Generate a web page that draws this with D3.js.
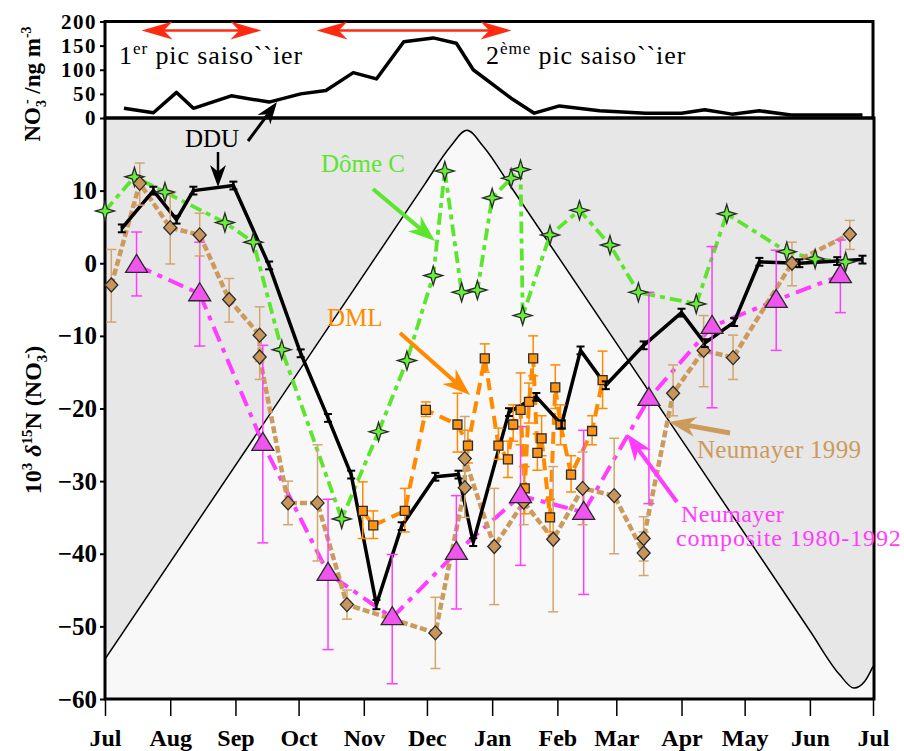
<!DOCTYPE html>
<html><head><meta charset="utf-8">
<script src="https://cdn.jsdelivr.net/npm/d3@7/dist/d3.min.js"></script>
<style>body{margin:0;background:#fff}svg{display:block}</style>
</head><body>
<svg id="chart" width="904" height="751"></svg>
<script>
// ---------- DATA (x = days since 1 July) ----------
const monthLabels = ["Jul","Aug","Sep","Oct","Nov","Dec","Jan","Feb","Mar","Apr","May","Jun","Jul"];
const mainTicks = [10,0,-10,-20,-30,-40,-50,-60];
const topTicks = [0,50,100,150,200];

// top panel: NO3- concentration (ng m-3)
const no3Day = [9,23,34,42,60,78,93,105,118,129,142,156,167,175,193,204,216,235,257,274,285,298,311,326,360];
const no3Val = [20,11,53,20,46,33,50,57,94,81,158,166,155,100,41,10,25,15,10,10,17,8,15,6,6];

// background (insolation-like) curve
const bgDay = [0,152,164,172,180,193,335,349,356,361,365];
const bgVal = [-54.5,10.9,16.0,18.3,16.0,10.5,-50.6,-56.6,-58.5,-57.6,-55.5];

// DDU
const dduDay = [8,23,34,42,61,78,93,106,117,129,141,157,168,175,192,205,217,226,238,256,274,285,299,311,330,348,360];
const dduVal = [4.8,10.0,6.0,10.0,10.7,-0.3,-12.4,-21.3,-29.1,-47.0,-36.2,-29.4,-29.1,-38.4,-20.5,-18.4,-22.2,-12.0,-16.8,-11.3,-6.8,-11.0,-8.1,0.2,0,0.3,0.5];
const dduErr = [0.4,0.4,0.4,0.4,0.4,0.4,0.4,0.4,0.4,0.5,0.4,0.4,0.4,0.4,0.4,0.4,0.4,0.4,0.4,0.4,0.4,0.4,0.4,0.4,0.4,0.4,0.4];

// Dome C
const domeDay = [0,14,28.5,57,70.5,84,112.5,130,143.5,156,161.5,169.5,177,184,193,197.5,198.5,211.5,225.5,240,253.5,281,295.5,324,337.5,352];
const domeVal = [7.2,11.9,9.8,5.6,2.9,-11.9,-35.2,-23.2,-13.4,-1.7,12.7,-4.0,-3.7,9.0,11.7,12.9,-7.2,3.9,7.3,2.5,-4.0,-5.6,6.8,1.6,0.6,0.2];

// DML
const dmlDay = [122.5,127.5,142.5,152.5,167.5,172.5,180.5,187,191.5,194,197.5,199.5,201.5,203.5,205.5,207.5,211.5,214,216.5,221.5,231.5,236.5];
const dmlVal = [-34.1,-36.1,-34.1,-20.2,-22.2,-25.1,-13.1,-25.1,-27.0,-22.2,-20.2,-31.0,-19.1,-13.1,-26.1,-24.1,-35.0,-17.1,-22.2,-29.1,-23.1,-16.1];
const dmlHi = [-30.1,-34.1,-31,-19.1,-17.9,-23,-11.1,-22.7,-24.5,-19.5,-15.1,-28,-16.5,-10,-23.5,-21,-32.5,-14,-19.5,-26.5,-21,-12.1];
const dmlLo = [-37.9,-37.9,-37,-21.1,-26,-27.5,-15,-27,-29.5,-24.5,-25,-34.5,-22,-15.5,-28.5,-26.5,-37,-20,-25,-31.5,-25,-20];

// Neumayer 1999
const n99Day = [3,16.5,31,45,59,73.5,73.5,87,101,115,157,171,171,185,199,213,227,242,256,256,270,284.5,298.5,326.5,354];
const n99Val = [-3.0,11.0,4.9,3.9,-5.0,-9.9,-12.9,-33.0,-33.0,-47.0,-50.9,-30.9,-26.9,-39.0,-32.9,-38.0,-31.0,-32.0,-39.9,-37.9,-17.9,-12.0,-13.0,0,4.0];
const n99Hi = [1.9,13.8,9.6,6.9,-2.1,-6.0,-10,-30,-25,-45,-46,-26,-21.1,-31,-28,-28,-26,-24.1,-37,-34.9,-14,-7.2,-9.9,2.9,5.9];
const n99Lo = [-8.1,8.0,-0.1,1.0,-8.1,-13.5,-16,-36,-41,-49,-55.8,-35,-31,-47,-36,-48,-36,-40,-43,-41,-21,-17,-16,-3.1,1.9];

// Neumayer composite 1980-1992
const ncDay = [15,45,75,106,136.5,167,197.5,227.5,258.5,288.5,319,349.5];
const ncVal = [-0.3,-4.2,-24.8,-42.7,-48.8,-39.8,-32.0,-34.3,-18.6,-8.7,-5.1,-1.7];
const ncHi = [4.3,2.9,-11.3,-32.5,-40.1,-32,-22.5,-23,-4.0,2.3,1.8,3.2];
const ncLo = [-4.5,-11.4,-38.5,-53.2,-57.9,-47.6,-41.6,-45.6,-33.1,-19.9,-12,-6.8];

// ---------- LAYOUT ----------
const svg = d3.select("#chart");
const serif = "'Liberation Serif','Times New Roman',Times,serif";
const L = 105, R = 874, mTop = 118, mBot = 699, tTop = 21.5;
const start = Date.UTC(2000,6,1);
const toDate = d => new Date(start + d*86400000);
const x = d3.scaleUtc().domain([new Date(start), new Date(Date.UTC(2001,6,1))]).range([L, 873]);
const y = d3.scaleLinear().domain([-60,20]).range([mBot, mTop]);
const yT = d3.scaleLinear().domain([0,200]).range([mTop, tTop]);
const zip = (a,b) => a.map((v,i)=>[v,b[i]]);

const C = {green:"#5be52c", orange:"#ff8a00", tan:"#cc9a5c", mag:"#ff3cff"};

svg.append("defs").append("clipPath").attr("id","clipM")
  .append("rect").attr("x",L).attr("y",mTop).attr("width",R-L).attr("height",mBot-mTop);

// ---------- MAIN BACKGROUND ----------
const bgG = svg.append("g").attr("clip-path","url(#clipM)");
bgG.append("rect").attr("x",L).attr("y",mTop).attr("width",R-L).attr("height",mBot-mTop).attr("fill","#e7e7e7");
const bgData = zip(bgDay,bgVal);
bgG.append("path").datum(bgData)
  .attr("d", d3.area().x(d=>x(toDate(d[0]))).y0(mBot).y1(d=>y(d[1])).curve(d3.curveMonotoneX))
  .attr("fill","#f8f8f8");
bgG.append("path").datum(bgData)
  .attr("d", d3.line().x(d=>x(toDate(d[0]))).y(d=>y(d[1])).curve(d3.curveMonotoneX))
  .attr("fill","none").attr("stroke","#000").attr("stroke-width",1.5);

// ---------- TOP PANEL ----------
svg.append("rect").attr("x",L).attr("y",tTop).attr("width",873-L).attr("height",mTop-tTop)
  .attr("fill","#fff").attr("stroke","#000").attr("stroke-width",3);
svg.append("path").datum(zip(no3Day,no3Val))
  .attr("d", d3.line().x(d=>x(toDate(d[0]))).y(d=>yT(d[1])))
  .attr("fill","none").attr("stroke","#000").attr("stroke-width",3.5).attr("stroke-linejoin","round");

const topAx = svg.append("g").attr("transform",`translate(${L},0)`)
  .call(d3.axisLeft(yT).tickValues(topTicks).tickSize(5).tickPadding(3));
topAx.select(".domain").remove();
topAx.selectAll("line").attr("stroke-width",2);
topAx.selectAll("text").attr("font-family",serif).attr("font-weight","bold").attr("font-size",21)
  .attr("letter-spacing",1.5).attr("fill","#000");

function headPath(tx,ty,ang,len,w,notch){
  const c=Math.cos(ang), s=Math.sin(ang);
  const p=(a,b)=>[tx - a*c + b*(-s), ty - a*s + b*c];
  const pts=[[tx,ty],p(len,-w),p(len*notch,0),p(len,w)];
  return "M"+pts.map(q=>q.join(",")).join("L")+"Z";
}
function arrow(g,x1,y1,x2,y2,color,width,len,w,notch,both){
  const ang=Math.atan2(y2-y1,x2-x1);
  const c=Math.cos(ang), s=Math.sin(ang);
  const sx = both? x1+c*len*notch : x1, sy = both? y1+s*len*notch : y1;
  g.append("line").attr("x1",sx).attr("y1",sy).attr("x2",x2-c*len*notch).attr("y2",y2-s*len*notch)
    .attr("stroke",color).attr("stroke-width",width);
  g.append("path").attr("d",headPath(x2,y2,ang,len,w,notch)).attr("fill",color);
  if(both) g.append("path").attr("d",headPath(x1,y1,ang+Math.PI,len,w,notch)).attr("fill",color);
}
const annG = svg.append("g");
arrow(annG,141.5,30.5,261.5,30.5,"#ff2a10",2.5,31,9,0.72,true);
arrow(annG,316.5,30.5,511.5,30.5,"#ff2a10",2.5,31,9,0.72,true);

function supText(xp,yp,a,sup,b,color,fs){
  const t=svg.append("text").attr("x",xp).attr("y",yp).attr("font-family",serif).attr("font-size",fs)
    .attr("fill",color).attr("letter-spacing",0.9);
  t.append("tspan").text(a);
  t.append("tspan").attr("dy",-10).attr("font-size",fs*0.66).text(sup);
  t.append("tspan").attr("dy",10).text(b);
}
supText(119,64,"1","er"," pic saiso``ier","#000",26);
supText(486,64,"2","ème"," pic saiso``ier","#000",26);

// ---------- MAIN FRAME & AXES ----------
svg.append("rect").attr("x",L).attr("y",mTop).attr("width",R-L).attr("height",mBot-mTop)
  .attr("fill","none").attr("stroke","#000").attr("stroke-width",3);

const yAx = svg.append("g").attr("transform",`translate(${L},0)`)
  .call(d3.axisLeft(y).tickValues(mainTicks).tickSize(5).tickPadding(3));
yAx.select(".domain").remove();
yAx.selectAll("line").attr("stroke-width",2);
yAx.selectAll("text").attr("font-family",serif).attr("font-weight","bold").attr("font-size",25).attr("fill","#000");

const monthDates = d3.utcMonth.range(new Date(start), new Date(Date.UTC(2001,6,2)));
const xAx = svg.append("g").attr("transform",`translate(0,${mBot})`)
  .call(d3.axisBottom(x).tickValues(monthDates).tickFormat((d,i)=>monthLabels[i]).tickSize(17).tickPadding(13));
xAx.select(".domain").remove();
xAx.selectAll("line").attr("stroke-width",1.5);
xAx.selectAll("text").attr("font-family",serif).attr("font-weight","bold").attr("font-size",24).attr("fill","#000");

// axis titles
const t1 = svg.append("text").attr("transform","translate(41,420) rotate(-90)")
  .attr("text-anchor","middle").attr("font-family",serif).attr("font-weight","bold").attr("font-size",24);
t1.append("tspan").text("10");
t1.append("tspan").attr("dy",-9).attr("font-size",15).text("3");
t1.append("tspan").attr("dy",9).text(" ");
t1.append("tspan").attr("font-style","italic").text("δ");
t1.append("tspan").attr("dy",-9).attr("font-size",15).text("15");
t1.append("tspan").attr("dy",9).text("N (NO");
t1.append("tspan").attr("dy",6).attr("font-size",15).text("3");
t1.append("tspan").attr("dy",-15).attr("dx",-4).attr("font-size",15).text("-");
t1.append("tspan").attr("dy",9).text(")");

const t2 = svg.append("text").attr("transform","translate(40,84) rotate(-90)")
  .attr("text-anchor","middle").attr("font-family",serif).attr("font-weight","bold").attr("font-size",23);
t2.append("tspan").text("NO");
t2.append("tspan").attr("dy",6).attr("font-size",14).text("3");
t2.append("tspan").attr("dy",-15).attr("dx",-4).attr("font-size",14).text("-");
t2.append("tspan").attr("dy",9).text(" /ng m");
t2.append("tspan").attr("dy",-9).attr("font-size",14).text("-3");

// ---------- SERIES ----------
const dg = svg.append("g");
const lineGen = d3.line().x(d=>x(toDate(d[0]))).y(d=>y(d[1]));
function drawLine(days,vals,color,w,dash){
  dg.append("path").datum(zip(days,vals)).attr("d",lineGen)
    .attr("fill","none").attr("stroke",color).attr("stroke-width",w)
    .attr("stroke-dasharray",dash).attr("stroke-linejoin","round");
}
function drawErr(days,hi,lo,color,w,cap){
  days.forEach((d,i)=>{
    const xp=x(toDate(d)), y1=y(hi[i]), y2=y(lo[i]);
    dg.append("line").attr("x1",xp).attr("x2",xp).attr("y1",y1).attr("y2",y2).attr("stroke",color).attr("stroke-width",w);
    [y1,y2].forEach(yy=>dg.append("line").attr("x1",xp-cap).attr("x2",xp+cap).attr("y1",yy).attr("y2",yy).attr("stroke",color).attr("stroke-width",w));
  });
}
function drawMarks(days,vals,pathStr,fill){
  days.forEach((d,i)=>{
    dg.append("path").attr("d",pathStr).attr("transform",`translate(${x(toDate(d))},${y(vals[i])})`)
      .attr("fill",fill).attr("stroke","#2a2a2a").attr("stroke-width",1.3);
  });
}
const star4 = "M0,-9.5L2.2,-2.2L9.5,0L2.2,2.2L0,9.5L-2.2,2.2L-9.5,0L-2.2,-2.2Z";
const tri = "M0,-11L11,7L-11,7Z";
const diamond = "M0,-7L6.5,0L0,7L-6.5,0Z";
const square = "M-4.5,-4.5H4.5V4.5H-4.5Z";

drawLine(ncDay,ncVal,C.mag,4,"16,7,5,7");
drawLine(domeDay,domeVal,C.green,3.8,"12,5,5,5");
drawLine(n99Day,n99Val,C.tan,4.5,"7,3");
drawLine(dmlDay,dmlVal,C.orange,4,"12,7");
drawLine(dduDay,dduVal,"#000",3.5,null);

drawErr(ncDay,ncHi,ncLo,C.mag,1.5,5.5);
drawErr(n99Day,n99Hi,n99Lo,"#d2a670",1.5,5);
drawErr(dmlDay,dmlHi,dmlLo,C.orange,1.5,5);

drawMarks(domeDay,domeVal,star4,"#66ee3a");
drawMarks(dmlDay,dmlVal,square,"#ff9414");
drawMarks(n99Day,n99Val,diamond,"#c8965a");
drawMarks(ncDay,ncVal,tri,"#f055f0");

dduDay.forEach((d,i)=>{
  const xp=x(toDate(d)), y1=y(dduVal[i]+dduErr[i]), y2=y(dduVal[i]-dduErr[i]);
  dg.append("line").attr("x1",xp).attr("x2",xp).attr("y1",y1-1).attr("y2",y2+1).attr("stroke","#000").attr("stroke-width",2.5);
  [y1-1,y2+1].forEach(yy=>dg.append("line").attr("x1",xp-4).attr("x2",xp+4).attr("y1",yy).attr("y2",yy).attr("stroke","#000").attr("stroke-width",2));
});

// ---------- ANNOTATIONS ----------
const ag = svg.append("g");
function label(xp,yp,txt,color,fs,ls){
  ag.append("text").attr("x",xp).attr("y",yp).attr("font-family",serif).attr("font-size",fs||25)
    .attr("letter-spacing",ls||0).attr("fill",color).text(txt);
}
label(185,147,"DDU","#000");
arrow(ag,218,152,218,187,"#000",2.5,22,8,0.7,false);
arrow(ag,248,141,277,102,"#000",3,22,8,0.7,false);
label(321,172,"Dôme C",C.green);
arrow(ag,373,189,435,241,C.green,4,27,10,0.7,false);
label(327,326,"DML",C.orange);
arrow(ag,400,333,470,395,C.orange,4,28,10,0.7,false);
label(697,458,"Neumayer 1999",C.tan,25,0.3);
arrow(ag,730,433,669,422,C.tan,5,27,10,0.7,false);
label(681,522,"Neumayer",C.mag,24,0.4);
label(676,546,"composite 1980-1992",C.mag,24,0.9);
arrow(ag,677,502,627,434,C.mag,4,27,10,0.7,false);
</script>
</body></html>
